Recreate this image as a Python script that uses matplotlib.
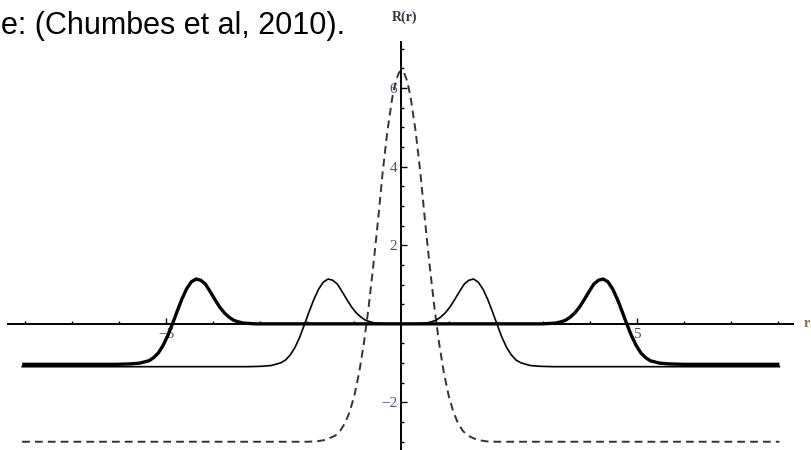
import numpy as np
import matplotlib
matplotlib.use("Agg")
import matplotlib.pyplot as plt

# ── values ───────────────────────────────────────────────────────────────────
# dashed curve (narrow central peak, -3 far away)
dash_r = [-8.05, -2.0, -1.8, -1.6, -1.4, -1.3, -1.2, -1.1, -1.0, -0.9, -0.8,
          -0.7, -0.6, -0.5, -0.4, -0.3, -0.25, -0.2, -0.15, -0.1, -0.05, 0.0,
          0.05, 0.1, 0.15, 0.2, 0.25, 0.3, 0.4, 0.5, 0.6, 0.7, 0.8, 0.9, 1.0,
          1.1, 1.2, 1.3, 1.4, 1.6, 1.8, 2.0, 8.02]
dash_R = [-3.0, -3.0, -2.99, -2.95, -2.84, -2.72, -2.53, -2.24, -1.82, -1.25, -0.51,
          0.40, 1.46, 2.61, 3.85, 4.90, 5.30, 5.72, 6.02, 6.25, 6.40, 6.45,
          6.40, 6.25, 6.02, 5.72, 5.30, 4.90, 3.85, 2.61, 1.46, 0.40, -0.51, -1.25, -1.82,
          -2.24, -2.53, -2.72, -2.84, -2.95, -2.99, -3.0, -3.0]

# thin solid curve (bumps near +-1.55, -1.09 far away)
thin_r = [-8.05, -3.26, -2.96, -2.76, -2.56, -2.46, -2.36, -2.26, -2.16, -2.06,
          -1.96, -1.86, -1.76, -1.66, -1.56, -1.46, -1.36, -1.26, -1.16, -1.06,
          -0.96, -0.86, -0.76, -0.66, -0.56, -0.3, 0.0, 0.3, 0.53, 0.63, 0.73,
          0.83, 0.93, 1.03, 1.13, 1.23, 1.33, 1.43, 1.53, 1.63, 1.73, 1.83, 1.93,
          2.03, 2.13, 2.23, 2.33, 2.43, 2.53, 2.73, 2.93, 3.23, 8.02]
thin_R = [-1.09, -1.09, -1.08, -1.06, -0.99, -0.92, -0.79, -0.60, -0.34, -0.02,
          0.31, 0.62, 0.88, 1.06, 1.14, 1.11, 1.01, 0.82, 0.62, 0.43,
          0.28, 0.17, 0.09, 0.05, 0.02, 0.0, 0.0, 0.0, 0.02, 0.05, 0.09,
          0.17, 0.28, 0.43, 0.62, 0.82, 1.01, 1.11, 1.14, 1.06, 0.88, 0.62, 0.31,
          -0.02, -0.34, -0.60, -0.79, -0.92, -0.99, -1.06, -1.08, -1.09, -1.09]

# thick solid curve (bumps near +-4.3, -1.03 far away)
thick_r = [-8.05, -6.06, -5.76, -5.56, -5.36, -5.26, -5.16, -5.06, -4.96, -4.86,
           -4.76, -4.66, -4.56, -4.46, -4.36, -4.26, -4.16, -4.06, -3.96, -3.86,
           -3.76, -3.66, -3.56, -3.46, -3.36, -3.1, 3.0, 3.28, 3.38, 3.48, 3.58,
           3.68, 3.78, 3.88, 3.98, 4.08, 4.18, 4.28, 4.38, 4.48, 4.58, 4.68, 4.78,
           4.88, 4.98, 5.08, 5.18, 5.28, 5.48, 5.68, 5.98, 8.02]
thick_R = [-1.03, -1.03, -1.02, -1.00, -0.94, -0.86, -0.74, -0.55, -0.30, 0.00,
           0.32, 0.63, 0.89, 1.07, 1.14, 1.11, 1.01, 0.82, 0.62, 0.43,
           0.28, 0.17, 0.09, 0.05, 0.02, 0.0, 0.0, 0.02, 0.05, 0.09, 0.17,
           0.28, 0.43, 0.62, 0.82, 1.01, 1.11, 1.14, 1.07, 0.89, 0.63, 0.32, 0.0,
           -0.30, -0.55, -0.74, -0.86, -0.94, -1.00, -1.02, -1.03, -1.03]

x_minor = [-8, -7, -6, -4, -3, -2, -1, 1, 2, 3, 4, 6, 7, 8]
x_major = [-5, 5]
y_major = [-2, 2, 4, 6]
y_minor = [-3, -2.5, -1.5, -1, -0.5, 0.5, 1, 1.5, 2.5, 3, 3.5, 4.5, 5, 5.5, 6.5, 7]

LABEL_COL = "#4a5080"

fig = plt.figure(figsize=(8.11, 4.5), dpi=100)
ax = fig.add_axes([0, 0, 1, 1])
ax.set_xlim(-8.52, 8.69)
ax.set_ylim(-3.21, 8.24)

ax.plot(dash_r, dash_R, color="#333333", lw=1.4, ls=(0, (4.0, 2.6)))
ax.plot(thin_r, thin_R, color="black", lw=1.2)
ax.plot(thick_r, thick_R, color="black", lw=2.4, solid_capstyle="butt")

# ── axes through the origin ─────────────────────────────────────────────────
for s in ["top", "right"]:
    ax.spines[s].set_visible(False)
ax.spines["left"].set_position(("data", 0))
ax.spines["bottom"].set_position(("data", 0))
ax.spines["left"].set_bounds(-3.21, 7.18)
ax.spines["bottom"].set_bounds(-8.35, 8.31)
ax.spines["left"].set_linewidth(1.4)
ax.spines["bottom"].set_linewidth(1.4)

ax.set_xticks(x_major)
ax.set_xticklabels([f"{v:d}".replace("-", "\u2212") for v in x_major])
ax.set_xticks(x_minor, minor=True)
ax.set_yticks(y_major)
ax.set_yticklabels([f"{v:d}".replace("-", "\u2212") for v in y_major])
ax.set_yticks(y_minor, minor=True)
ax.tick_params(which="both", direction="in", width=1.0, color="black")
ax.tick_params(which="major", length=4)
ax.tick_params(which="minor", length=2.4)
ax.tick_params(axis="x", which="major", pad=3, labelsize=11, labelcolor=LABEL_COL)
ax.tick_params(axis="y", which="major", pad=3, labelsize=11, labelcolor=LABEL_COL)
for lab in ax.get_xticklabels() + ax.get_yticklabels():
    lab.set_family("Liberation Serif")

ax.text(0.06, 7.8, "R(r)", ha="center", va="center", fontsize=10,
        family="Liberation Serif", fontweight="bold", color="#333344")
ax.text(8.67, 0, "r", ha="right", va="center", fontsize=10,
        family="Liberation Serif", fontweight="bold", color="#8a6a3a")

fig.text(0.001, 1 - 34 / 450, "e: (Chumbes et al, 2010).", ha="left",
         va="baseline", fontsize=22, family="Liberation Sans", color="black")

fig.savefig("out.png", dpi=100)
